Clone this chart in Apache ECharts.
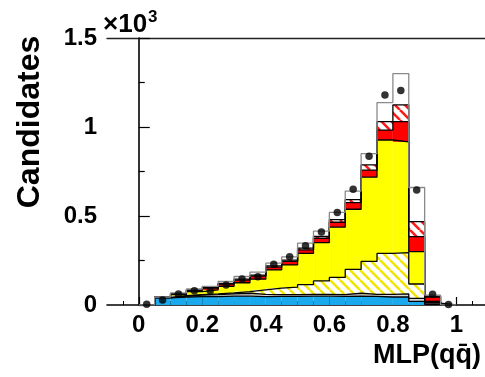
<!DOCTYPE html>
<html>
<head>
<meta charset="utf-8">
<script src="https://cdn.jsdelivr.net/npm/echarts@6/dist/echarts.min.js"></script>
<style>
  html, body { margin: 0; padding: 0; background: #fff; }
  #chart { width: 485px; height: 377px; }
</style>
</head>
<body>
<div id="chart"></div>
<script>
// MLP(q qbar) output distribution, stacked components (units of 10^3 candidates)
const binLow = [0.00, 0.05, 0.10, 0.15, 0.20, 0.25, 0.30, 0.35, 0.40, 0.45,
                0.50, 0.55, 0.60, 0.65, 0.70, 0.75, 0.80, 0.85, 0.90, 0.95];
const binWidth = 0.05;

const blueBkg    = [0, .040, .045, .047, .047, .050, .050, .047, .048, .048, .050, .050, .048, .050, .048, .045, .045, .020, .004, 0];
const greyBkg    = [0, .002, .005, .008, .011, .012, .016, .013, .010, .010, .010, .010, .010, .016, .012, .015, .017, .017, .006, 0];
const hatchYell  = [0, 0,    .002, .003, .004, .006, .009, .025, .037, .042, .055, .075, .097, .134, .185, .230, .232, .081, .005, 0];
const yellowSig  = [0, .001, .006, .017, .023, .037, .050, .060, .102, .125, .175, .215, .282, .338, .473, .637, .623, .182, .005, 0];
const redBkg     = [0, .001, .004, .007, .010, .013, .015, .017, .016, .020, .020, .025, .028, .037, .040, .056, .113, .084, .025, 0];
const hatchRed   = [0, .001, .002, .003, .003, .004, .005, .006, .007, .007, .010, .010, .015, .017, .029, .047, .094, .084, .005, 0];
const whiteTop   = [0, 0,    .004, .005, .007, .011, .015, .017, .015, .018, .028, .030, .040, .048, .063, .107, .176, .192, .006, 0];

const dataX = [0.025, 0.075, 0.125, 0.175, 0.225, 0.275, 0.325, 0.375, 0.425, 0.475,
               0.525, 0.575, 0.625, 0.675, 0.725, 0.775, 0.825, 0.875, 0.925, 0.975];
const dataY = [0.004, 0.028, 0.062, 0.080, 0.080, 0.112, 0.146, 0.159, 0.229, 0.271,
               0.333, 0.410, 0.520, 0.650, 0.835, 1.180, 1.205, 0.646, 0.060, 0.003];

const xLabelTicks = [0, 0.2, 0.4, 0.6, 0.8, 1.0];
const xMinorTicks = [-0.05, 0.05, 0.1, 0.15, 0.25, 0.3, 0.35, 0.45, 0.5, 0.55,
                     0.65, 0.7, 0.75, 0.85, 0.9, 0.95, 1.05];

// diagonal hatch tile
function hatch(color) {
  const s = 10;
  const c = document.createElement('canvas');
  c.width = s; c.height = s;
  const g = c.getContext('2d');
  g.fillStyle = '#fff';
  g.fillRect(0, 0, s, s);
  g.strokeStyle = color;
  g.lineWidth = 2.6;
  for (const off of [-s, 0, s]) {
    g.beginPath();
    g.moveTo(off, 0);
    g.lineTo(off + s, s);
    g.stroke();
  }
  return { image: c, repeat: 'repeat' };
}

const layers = [
  { values: blueBkg,   fill: '#19a9ec', edge: '#000' },
  { values: greyBkg,   fill: '#d6d6d6', edge: '#000' },
  { values: hatchYell, fill: hatch('#f2e600'), edge: '#000' },
  { values: yellowSig, fill: '#ffff00', edge: '#000' },
  { values: redBkg,    fill: '#ff0000', edge: '#000' },
  { values: hatchRed,  fill: hatch('#ff1a1a'), edge: '#000' },
  { values: whiteTop,  fill: '#ffffff', edge: '#8a8a8a' }
];

const series = [];
const base = binLow.map(() => 0);
layers.forEach((layer) => {
  const rows = binLow.map((x, i) => {
    const y0 = base[i];
    const y1 = y0 + layer.values[i];
    base[i] = y1;
    return [x, x + binWidth, y0, y1];
  });
  const tops = rows.map(r => r[3]);
  series.push({
    type: 'custom',
    xAxisIndex: 0, yAxisIndex: 0,
    silent: true,
    data: rows,
    encode: { x: [0, 1], y: [2, 3] },
    renderItem: (params, api) => {
      const p0 = api.coord([api.value(0), api.value(3)]);
      const p1 = api.coord([api.value(1), api.value(2)]);
      const h = p1[1] - p0[1];
      if (h <= 0) return null;
      return {
        type: 'rect',
        shape: { x: p0[0], y: p0[1], width: p1[0] - p0[0], height: h },
        style: { fill: layer.fill, stroke: null }
      };
    },
    z: 2
  });
  // histogram outline of the stacked sum
  const stepData = binLow.map((x, i) => [x, tops[i]]);
  stepData.push([binLow[binLow.length - 1] + binWidth, tops[tops.length - 1]]);
  series.push({
    type: 'line',
    step: 'end',
    data: stepData,
    symbol: 'none',
    silent: true,
    lineStyle: { color: layer.edge, width: 1.3 },
    z: 3
  });
});

series.push({
  type: 'scatter',
  data: dataX.map((x, i) => [x, dataY[i]]),
  symbol: 'circle',
  symbolSize: 7.5,
  itemStyle: { color: '#000' },
  z: 5
});

const font = 'Liberation Sans, Arial, Helvetica, sans-serif';
const chart = echarts.init(document.getElementById('chart'), null, { renderer: 'canvas' });
chart.setOption({
  animation: false,
  backgroundColor: '#fff',
  grid: { left: 107, right: 0, top: 38, bottom: 72, containLabel: false },
  xAxis: [
    {
      type: 'value', min: -0.1, max: 1.09,
      axisLine: { show: true, onZero: false, lineStyle: { color: '#000', width: 1.6 } },
      axisTick: { show: true, inside: true, length: 8, customValues: xLabelTicks, lineStyle: { color: '#000', width: 1.2 } },
      axisLabel: { show: true, customValues: xLabelTicks, margin: 8, fontSize: 24, fontWeight: 'bold', color: '#000', fontFamily: font,
                   formatter: v => String(Math.round(v * 10) / 10) },
      splitLine: { show: false }
    },
    {
      type: 'value', min: -0.1, max: 1.09, position: 'bottom',
      axisLine: { show: false },
      axisTick: { show: true, inside: true, length: 4, customValues: xMinorTicks, lineStyle: { color: '#000', width: 1 } },
      axisLabel: { show: false },
      splitLine: { show: false }
    },
    {
      type: 'value', min: -0.1, max: 1.09, position: 'top',
      axisLine: { show: true, lineStyle: { color: '#222', width: 1.3 } },
      axisTick: { show: false }, axisLabel: { show: false }, splitLine: { show: false }
    }
  ],
  yAxis: {
    type: 'value', min: 0, max: 1.5, interval: 0.5,
    axisLine: { show: true, lineStyle: { color: '#000', width: 1.6 } },
    axisTick: { show: true, inside: true, length: 11, lineStyle: { color: '#000', width: 1.2 } },
    minorTick: { show: true, splitNumber: 2, length: 6, lineStyle: { color: '#000', width: 1.2 } },
    axisLabel: { margin: 10, fontSize: 24, fontWeight: 'bold', color: '#000', fontFamily: font },
    splitLine: { show: false }
  },
  graphic: [
    {
      type: 'text', x: 30, y: 122, rotation: Math.PI / 2,
      style: { text: 'Candidates', font: 'bold 32px ' + font, fill: '#000', textAlign: 'center', textVerticalAlign: 'middle' }
    },
    {
      type: 'text', x: 103, y: 12,
      style: { text: '\u00d710', font: 'bold 26px ' + font, fill: '#000', textVerticalAlign: 'top' }
    },
    {
      type: 'text', x: 148, y: 9,
      style: { text: '3', font: 'bold 17px ' + font, fill: '#000', textVerticalAlign: 'top' }
    },
    {
      type: 'text', right: 4, top: 342,
      style: { text: 'MLP(qq\u0304)', font: 'bold 27px ' + font, fill: '#000' }
    }
  ],
  series: series
});
</script>
</body>
</html>
